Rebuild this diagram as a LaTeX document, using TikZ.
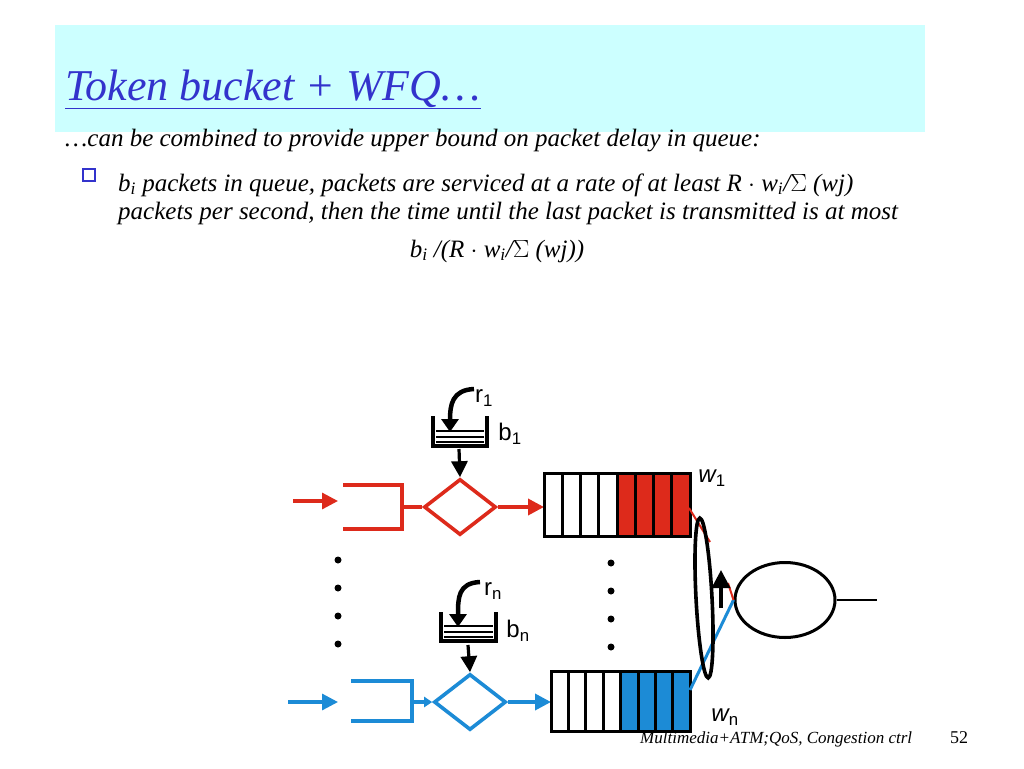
\documentclass[tikz,border=0pt]{standalone}
\usepackage{fontspec}
\setmainfont{Liberation Serif}
\setsansfont{Liberation Sans}
\usetikzlibrary{shapes.geometric,arrows.meta}
\definecolor{hdr}{HTML}{CCFFFF}
\definecolor{ttl}{HTML}{3333CC}
\definecolor{rd}{HTML}{DD2A1B}
\definecolor{bl}{HTML}{1C8BD6}
\begin{document}
\begin{tikzpicture}[x=1pt,y=-1pt,
  txt/.style={font=\fontsize{25}{29}\selectfont\itshape,anchor=base west,inner sep=0},
  lab/.style={font=\sffamily\fontsize{24}{26}\selectfont,inner sep=0},
  dia/.style={diamond,draw,line width=3.6pt,minimum width=72pt,minimum height=56pt,aspect=1.3,inner sep=0},
  tip/.style={-{Triangle[length=16pt,width=16pt]}},
  cell/.style={draw=black,line width=3pt}]
\useasboundingbox (0,0) rectangle (1024,768);
\fill[white] (0,0) rectangle (1024,768);
\fill[hdr] (55,25) rectangle (925,132);
\node[font=\fontsize{44}{48}\selectfont\itshape,text=ttl,anchor=base west,inner sep=0] (title) at (65,100) {\underline{Token bucket + WFQ…}};
\node[txt] (l1) at (65,146) {…can be combined to provide upper bound on packet delay in queue:};
\node[draw=ttl,fill=white,minimum size=12pt,inner sep=0,line width=1.8pt] (bul) at (89,175) {};
\node[txt] (l2) at (118,191) {b\textsubscript{i} packets in queue, packets are serviced at a rate of at least R $\cdot$ w\textsubscript{i}/$\Sigma$ (wj)};
\node[txt] (l3) at (118,219) {packets per second, then the time until the last packet is transmitted is at most};
\node[txt,anchor=base] (l4) at (497,257) {b\textsubscript{i} /(R $\cdot$ w\textsubscript{i}/$\Sigma$ (wj))};
\node[font=\fontsize{17}{20}\selectfont\itshape,anchor=base west,inner sep=0] (foot) at (640,743) {Multimedia+ATM;QoS, Congestion ctrl};
\node[font=\fontsize{18}{20}\selectfont,anchor=base west,inner sep=0] (pg) at (950,743) {52};
% ---- red flow
\draw[rd,line width=3.2pt,tip] (293,501) -- (338,501);
\draw[rd,line width=3.6pt] (343,485) -- (402,485) -- (402,529) -- (343,529);
\node[dia,draw=rd] (d1) at (460,507) {};
\draw[rd,line width=3.6pt] (402,507) -- (d1.west);
\coordinate (q1w) at (544,507);
\draw[rd,line width=3.6pt,tip] (d1.east) -- (q1w);
\foreach \i in {0,...,7}{\pgfmathsetmacro{\xa}{544+\i*18.25}
 \ifnum\i>3 \fill[rd] (\xa,473) rectangle ++(18.25,63);\fi
 \draw[cell] (\xa,473) rectangle ++(18.25,63);}
\coordinate (q1e) at (689,508);
\draw[rd,line width=2pt] (q1e) -- (710,542);
% bucket 1
\draw[line width=4pt] (433,416) -- (433,446) -- (487,446) -- (487,416);
\foreach \yy in {431,437,442}\draw[line width=2.6pt] (436,\yy) -- (484,\yy);
\draw[line width=4.5pt,-{Triangle[length=13pt,width=17pt]}] (474,389) .. controls (452,390) and (450,405) .. (450,432);
\node[lab] (r1) at (484,398) {r\textsubscript{1}};
\node[lab] (b1) at (510,434) {b\textsubscript{1}};
\draw[line width=3.2pt,tip] (459,449) -- (d1.north);
\node[lab,font=\sffamily\itshape\fontsize{24}{26}\selectfont] (w1) at (712,478) {w\textsubscript{\upshape 1}};
% dots
\foreach \yy in {560,588,616,644}{\fill (338,\yy) circle (3.5pt); \fill (611,\yy+3) circle (3.5pt);}
% ---- blue flow
\draw[bl,line width=3.2pt,tip] (288,702) -- (338,702);
\draw[bl,line width=3.6pt] (351,681) -- (412,681) -- (412,721) -- (351,721);
\node[dia,draw=bl] (d2) at (470,702) {};
\draw[bl,line width=3.6pt,-{Triangle[length=8pt,width=10pt]}] (412,702) -- (d2.west);
\coordinate (q2w) at (551,702);
\draw[bl,line width=3.6pt,tip] (d2.east) -- (q2w);
\foreach \i in {0,...,7}{\pgfmathsetmacro{\xa}{551+\i*17.4}
 \ifnum\i>3 \fill[bl] (\xa,671) rectangle ++(17.4,60);\fi
 \draw[cell] (\xa,671) rectangle ++(17.4,60);}
\coordinate (q2e) at (690,690);
\node[draw,ellipse,line width=3pt,minimum width=100pt,minimum height=75pt,inner sep=0] (srv) at (785,600) {};
\draw[bl,line width=3pt] (q2e) -- (srv.west);
\draw[rd,line width=2pt] (srv.west) -- (728,583);
\coordinate (out) at (877,600);
\draw[line width=2.6pt] (srv.east) -- (out);
% bucket n
\draw[line width=4pt] (441,612) -- (441,641) -- (496,641) -- (496,612);
\foreach \yy in {626,632,637}\draw[line width=2.6pt] (444,\yy) -- (493,\yy);
\draw[line width=4.5pt,-{Triangle[length=13pt,width=17pt]}] (480,582) .. controls (458,583) and (458,598) .. (458,627);
\node[lab] (rn) at (493,591) {r\textsubscript{n}};
\node[lab] (bn) at (518,631) {b\textsubscript{n}};
\draw[line width=3.2pt,tip] (468,645) -- (d2.north);
\node[lab,font=\sffamily\itshape\fontsize{24}{26}\selectfont] (wn) at (725,717) {w\textsubscript{\upshape n}};
% rotation loop
\draw[line width=3.6pt,rotate around={3:(704,598)}] (704,598) ellipse (8pt and 80pt);
\draw[line width=3.6pt,-{Triangle[length=18pt,width=18pt]}] (721,608) -- (721,570);
\end{tikzpicture}
\end{document}
